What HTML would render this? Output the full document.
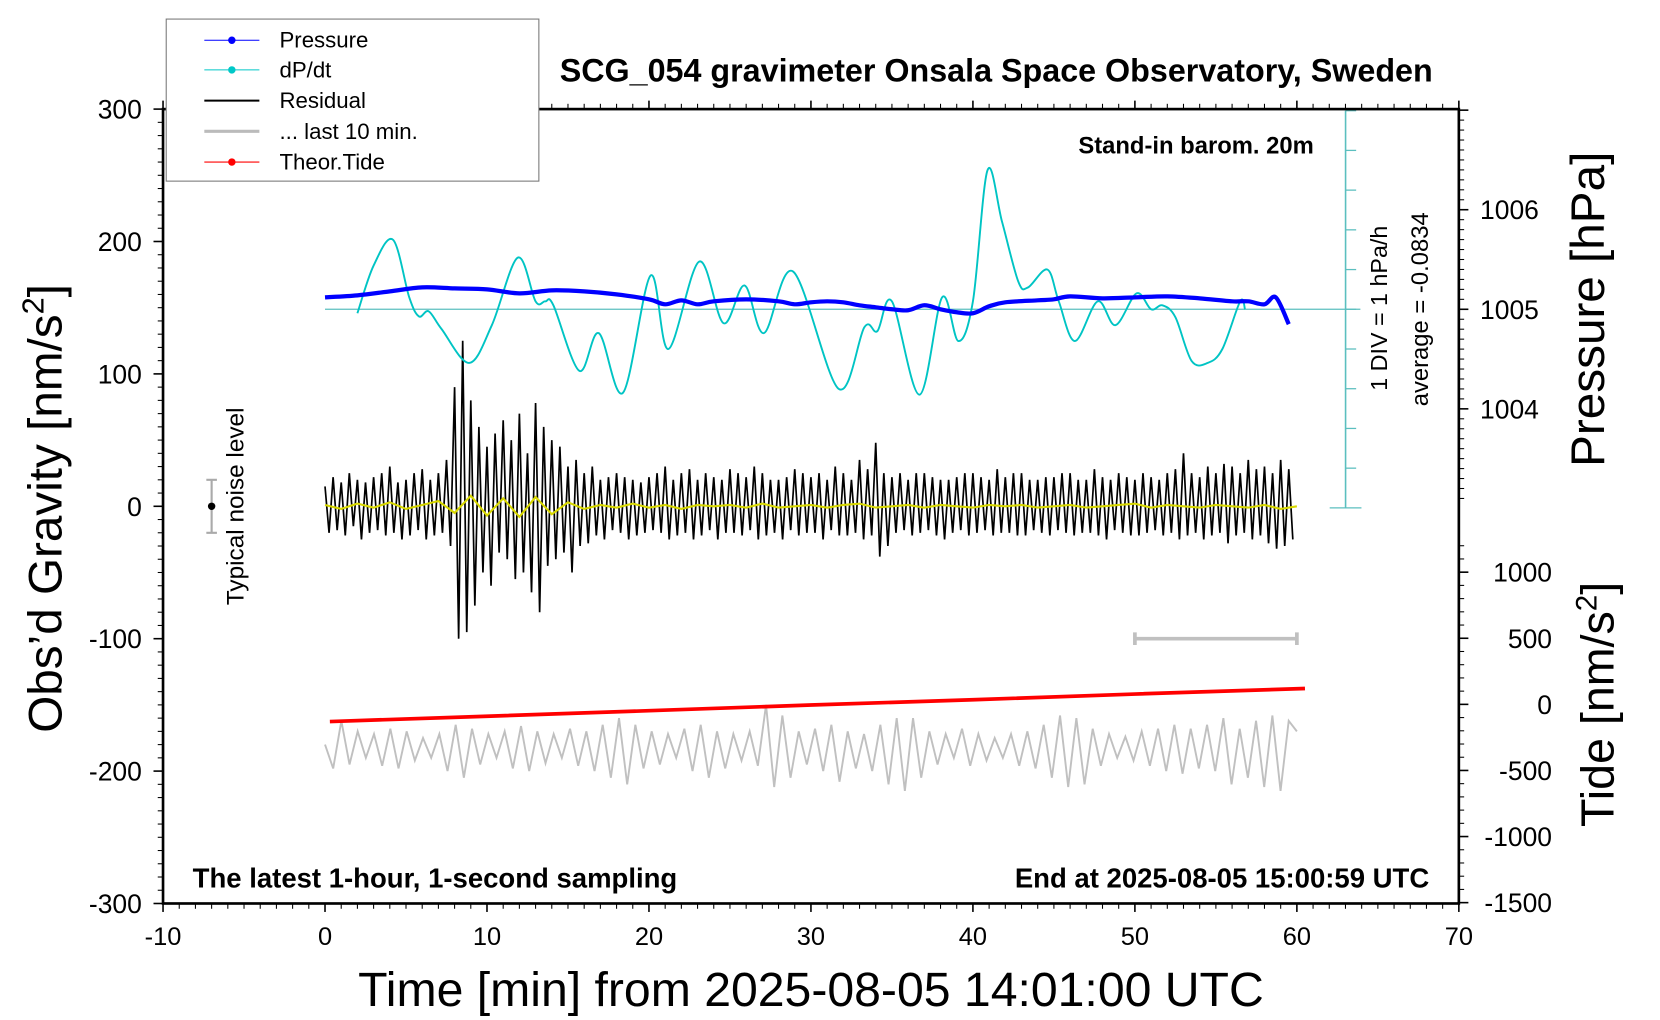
<!DOCTYPE html>
<html><head><meta charset="utf-8"><style>
html,body{margin:0;padding:0;background:#fff;}
svg{display:block;font-family:"Liberation Sans",Arial,sans-serif;}
</style></head><body>
<svg id="chart" width="1660" height="1020" viewBox="0 0 1568 963" preserveAspectRatio="none" xmlns="http://www.w3.org/2000/svg">
<rect x="0" y="0" width="1568" height="963" fill="#fff"/>
<g id="ticks"></g>
<g id="series"></g>
<rect x="154" y="103" width="1224" height="750" fill="none" stroke="#000" stroke-width="2.5"/>
<g id="labels"></g>
<text x="941" y="77" font-size="30.5" font-weight="bold" text-anchor="middle">SCG_054 gravimeter Onsala Space Observatory, Sweden</text>
<text x="1241" y="145" font-size="22.5" font-weight="bold" text-anchor="end">Stand-in barom. 20m</text>
<text x="182" y="838" font-size="26" font-weight="bold">The latest 1-hour, 1-second sampling</text>
<text x="1350" y="838" font-size="26" font-weight="bold" text-anchor="end">End at 2025-08-05 15:00:59 UTC</text>
<text x="766" y="950" font-size="45.5" text-anchor="middle">Time [min] from 2025-08-05 14:01:00 UTC</text>
<text transform="translate(58,480) rotate(-90)" font-size="45" text-anchor="middle">Obs’d Gravity [nm/s<tspan font-size="29" dy="-17">2</tspan><tspan dy="17">]</tspan></text>
<text transform="translate(1515,292) rotate(-90)" font-size="45" text-anchor="middle">Pressure [hPa]</text>
<text transform="translate(1524,665) rotate(-90)" font-size="44" text-anchor="middle">Tide [nm/s<tspan font-size="28" dy="-16">2</tspan><tspan dy="16">]</tspan></text>
<text transform="translate(1310,291) rotate(-90)" font-size="22" text-anchor="middle">1 DIV = 1 hPa/h</text>
<text transform="translate(1349,292) rotate(-90)" font-size="22.5" text-anchor="middle">average = -0.0834</text>
<text transform="translate(230,478) rotate(-90)" font-size="23" text-anchor="middle">Typical noise level</text>
<g>
<rect x="157" y="18" width="352" height="153" fill="#fff" stroke="#777" stroke-width="1"/>
<g><line x1="193" y1="38" x2="245" y2="38" stroke="#00f" stroke-width="1"/><circle cx="219" cy="38" r="3.5" fill="#00f"/><text x="264" y="45" font-size="21">Pressure</text></g>
<g><line x1="193" y1="66" x2="245" y2="66" stroke="#00c8c8" stroke-width="1"/><circle cx="219" cy="66" r="3.5" fill="#00c8c8"/><text x="264" y="73" font-size="21">dP/dt</text></g>
<g><line x1="193" y1="95" x2="245" y2="95" stroke="#000" stroke-width="2"/><text x="264" y="102" font-size="21">Residual</text></g>
<g><line x1="193" y1="124" x2="245" y2="124" stroke="#bbb" stroke-width="3"/><text x="264" y="131" font-size="21">... last 10 min.</text></g>
<g><line x1="193" y1="153" x2="245" y2="153" stroke="#f00" stroke-width="1"/><circle cx="219" cy="153" r="3.5" fill="#f00"/><text x="264" y="160" font-size="21">Theor.Tide</text></g>
</g>
</svg>
<script>
// ---- data ----
const xTicks = [-10,0,10,20,30,40,50,60,70];
const gravTicks = [300,200,100,0,-100,-200,-300];
const pressTicks = [1006,1005,1004];
const tideTicks = [1000,500,0,-500,-1000,-1500];
const pressTimes = [0,2,4,6,8,10,12,14,16,18,20,21,22,23,24,26,28,29,30,31,32,33,34,35,36,37,38,39,40,41,42,44,45,46,48,50,52,54,56,57,58,58.7,59.5];
const pressValues = [1005.12,1005.14,1005.18,1005.22,1005.21,1005.20,1005.16,1005.19,1005.18,1005.15,1005.10,1005.05,1005.09,1005.05,1005.08,1005.10,1005.08,1005.05,1005.07,1005.08,1005.07,1005.04,1005.02,1005.00,1004.99,1005.04,1005.00,1004.97,1004.96,1005.03,1005.07,1005.09,1005.10,1005.13,1005.11,1005.12,1005.13,1005.11,1005.08,1005.08,1005.05,1005.12,1004.85];
const dpdtTimes = [2.0,3.0,4.2,5.2,5.8,6.4,7.2,8.9,10.3,11.9,13.0,13.6,14.1,15.7,16.9,18.4,20.1,21.2,23.1,24.6,25.9,27.1,28.9,31.7,33.3,34.1,35.0,36.7,38.1,39.1,40.0,40.9,41.8,42.8,43.4,44.6,45.3,46.3,47.7,48.8,50.1,51.0,51.7,52.5,53.5,54.5,55.4,56.5,56.8];
const dpdtValues = [-0.1,1.1,1.75,0.3,-0.18,-0.05,-0.5,-1.35,-0.4,1.3,0.2,0.2,0.1,-1.55,-0.6,-2.1,0.85,-1.0,1.2,-0.35,0.6,-0.6,0.95,-2.0,-0.45,-0.55,0.2,-2.15,0.3,-0.8,0.2,3.5,2.2,0.7,0.55,1.0,0.2,-0.8,0.2,-0.4,0.4,0.0,0.1,-0.2,-1.3,-1.35,-1.0,0.2,0.0];
const residualValues = [15,-20,22,-18,18,-22,25,-15,20,-25,18,-20,22,-18,25,-22,30,-20,18,-25,20,-22,25,-18,28,-25,20,-22,25,-20,35,-30,
90,-100,125,-95,80,-75,60,-50,45,-60,55,-35,65,-40,50,-55,70,-50,40,-65,78,-80,60,-45,50,-40,45,-35,30,-50,35,-30,
25,-28,30,-22,20,-25,22,-18,25,-20,22,-25,20,-22,18,-20,22,-18,25,-20,30,-25,20,-22,25,-20,28,-25,20,-22,25,-18,
22,-25,20,-20,28,-20,25,-22,22,-18,30,-25,25,-22,20,-20,20,-25,22,-18,28,-22,25,-20,22,-20,25,-25,20,-18,30,-22,
25,-22,20,-20,35,-25,28,-22,48,-38,25,-30,22,-20,25,-18,20,-22,25,-20,25,-18,22,-22,20,-25,20,-20,22,-18,25,-22,
25,-20,22,-18,20,-22,28,-20,22,-20,25,-22,25,-22,20,-18,20,-20,22,-22,22,-18,25,-20,25,-22,20,-20,20,-20,28,-22,
22,-25,20,-18,25,-20,22,-22,20,-22,25,-20,22,-18,20,-22,25,-20,28,-25,40,-22,25,-20,22,-25,30,-22,25,-20,32,-28,
30,-22,25,-20,35,-25,28,-22,30,-28,25,-32,35,-30,28,-25];
const yellowValues = [1,-2,2,-1,3,-2,1,4,-5,8,-7,6,-8,7,-6,3,-2,1,-1,2,-1,1,-2,1,0,1,-1,2,-1,0,1,-1,1,2,-1,0,1,-1,1,0,-1,1,0,1,-1,0,1,-1,0,1,2,-1,1,0,-1,1,0,-1,1,-2,0];
const lastTenValues = [-180,-198,-162,-195,-170,-190,-172,-196,-168,-198,-170,-192,-175,-190,-172,-200,-165,-205,-168,-195,
 -172,-190,-170,-198,-166,-200,-170,-194,-172,-190,-168,-196,-170,-200,-165,-205,-160,-210,-165,-198,
 -170,-195,-172,-190,-168,-200,-165,-205,-170,-198,-172,-192,-170,-196,-150,-212,-158,-205,-170,-195,
 -168,-200,-165,-208,-170,-198,-172,-200,-165,-210,-160,-215,-160,-205,-170,-195,-172,-190,-168,-196,
 -172,-192,-175,-190,-172,-196,-170,-198,-165,-205,-158,-212,-160,-210,-168,-196,-172,-190,-174,-192,
 -170,-196,-168,-200,-165,-202,-168,-198,-165,-200,-160,-210,-168,-205,-162,-212,-158,-215,-162,-170];
const tideTimes = [0.3,10,20,30,40,50,60.5];
const tideValues = [-130,-90,-48,-5,35,78,120];

// ---- axes ----
const X = t => 154 + (t + 10) * 15.3;
const YG = g => 478 - g * 1.25;
const YP = p => 292 - (p - 1005) * 94;
const YD = d => 292 - d * 37.5;
const YT = v => 665 - v * 0.1248;
const NS = 'http://www.w3.org/2000/svg';
function mk(tag, attrs, parent) {
  const e = document.createElementNS(NS, tag);
  for (const k in attrs) e.setAttribute(k, attrs[k]);
  parent.appendChild(e);
  return e;
}
const tg = document.getElementById('ticks');
const sg = document.getElementById('series');
const lg = document.getElementById('labels');

for (let m = -10; m <= 70; m++) {
  const major = m % 10 === 0;
  const len = major ? 8 : 5;
  mk('line', {x1: X(m), x2: X(m), y1: 853, y2: 853 + len, stroke: '#000', 'stroke-width': major ? 1.5 : 1}, tg);
  mk('line', {x1: X(m), x2: X(m), y1: 103, y2: 103 - len, stroke: '#000', 'stroke-width': major ? 1.5 : 1}, tg);
}
xTicks.forEach(v => {
  const t = mk('text', {x: X(v), y: 892, 'font-size': 24, 'text-anchor': 'middle'}, lg);
  
  
  t.textContent = v;
});
for (let g = -300; g <= 300; g += 10) {
  const major = g % 100 === 0;
  mk('line', {x1: 154, x2: 154 - (major ? 9 : 5), y1: YG(g), y2: YG(g), stroke: '#000', 'stroke-width': major ? 1.5 : 1}, tg);
}
gravTicks.forEach(v => {
  const t = mk('text', {x: 134, y: YG(v) + 9, 'font-size': 25, 'text-anchor': 'end'}, lg);
  
  
  t.textContent = v;
});
for (let i = 0; i <= 40; i++) {
  const p = 1003 + i * 0.1;
  const y = YP(p);
  if (y < 103 || y > 478) continue;
  const major = i % 10 === 0;
  mk('line', {x1: 1378, x2: 1378 + (major ? 9 : 5), y1: y, y2: y, stroke: '#000', 'stroke-width': major ? 1.5 : 1}, tg);
}
pressTicks.forEach(v => {
  const t = mk('text', {x: 1398, y: YP(v) + 9, 'font-size': 25}, lg);
  
  
  t.textContent = v;
});
for (let v = -1500; v <= 1500; v += 100) {
  const y = YT(v);
  if (y < 515 || y > 853) continue;
  const major = v % 500 === 0;
  mk('line', {x1: 1378, x2: 1378 + (major ? 9 : 5), y1: y, y2: y, stroke: '#000', 'stroke-width': major ? 1.5 : 1}, tg);
}
tideTicks.forEach(v => {
  const t = mk('text', {x: 1466, y: YT(v) + 9, 'font-size': 25, 'text-anchor': 'end'}, lg);
  
  
  t.textContent = v;
});

const dax = mk('line', {x1: 1271, x2: 1271, y1: YD(5), y2: YD(-5), stroke: '#5bbfbf', 'stroke-width': 1.5}, sg);


for (let d = -5; d <= 5; d++) {
  mk('line', {x1: (d === -5) ? 1256 : 1271, x2: (d === -5) ? 1286 : 1281, y1: YD(d), y2: YD(d), stroke: '#5bbfbf', 'stroke-width': 1.2}, sg);
}
const zl = mk('line', {x1: X(0), x2: 1285, y1: YD(0), y2: YD(0), stroke: '#5bbfbf', 'stroke-width': 1.2}, sg);



function smoothPath(xs, ys) {
  let d = 'M' + xs[0] + ',' + ys[0];
  for (let i = 0; i < xs.length - 1; i++) {
    const x0 = xs[Math.max(i - 1, 0)], y0 = ys[Math.max(i - 1, 0)];
    const x1 = xs[i], y1 = ys[i], x2 = xs[i + 1], y2 = ys[i + 1];
    const x3 = xs[Math.min(i + 2, xs.length - 1)], y3 = ys[Math.min(i + 2, xs.length - 1)];
    d += ' C' + (x1 + (x2 - x0) / 6) + ',' + (y1 + (y2 - y0) / 6) + ' ' + (x2 - (x3 - x1) / 6) + ',' + (y2 - (y3 - y1) / 6) + ' ' + x2 + ',' + y2;
  }
  return d;
}

let rp = residualValues.map((v, i) => X(i * 60 / residualValues.length) + ',' + YG(v)).join(' ');
const res = mk('polyline', {points: rp, fill: 'none', stroke: '#000', 'stroke-width': 1.6}, sg);


let yp = yellowValues.map((v, i) => X(i * 60 / (yellowValues.length - 1)) + ',' + YG(v)).join(' ');
const yl = mk('polyline', {points: yp, fill: 'none', stroke: '#d8d800', 'stroke-width': 2}, sg);


let gp = lastTenValues.map((v, i) => X(i * 60 / (lastTenValues.length - 1)) + ',' + YG(v)).join(' ');
const gl = mk('polyline', {points: gp, fill: 'none', stroke: '#c0c0c0', 'stroke-width': 1.8}, sg);


const sb = mk('path', {d: 'M' + X(50) + ',' + YG(-100) + ' H' + X(60) + ' M' + X(50) + ',' + (YG(-100) - 6) + ' v12 M' + X(60) + ',' + (YG(-100) - 6) + ' v12', stroke: '#c0c0c0', 'stroke-width': 3.5, fill: 'none'}, sg);


const nl = mk('path', {d: 'M' + X(-7) + ',' + YG(20) + ' V' + YG(-20) + ' M' + (X(-7) - 5) + ',' + YG(20) + ' h10 M' + (X(-7) - 5) + ',' + YG(-20) + ' h10', stroke: '#aaa', 'stroke-width': 2, fill: 'none'}, sg);


mk('circle', {cx: X(-7), cy: YG(0), r: 3.5, fill: '#000'}, sg);
const tl = mk('polyline', {points: tideTimes.map((t, i) => X(t) + ',' + YT(tideValues[i])).join(' '), fill: 'none', stroke: '#f00', 'stroke-width': 3.5}, sg);


const dl = mk('path', {d: smoothPath(dpdtTimes.map(X), dpdtValues.map(YD)), fill: 'none', stroke: '#00c4c4', 'stroke-width': 1.8}, sg);


const pl = mk('path', {d: smoothPath(pressTimes.map(X), pressValues.map(YP)), fill: 'none', stroke: '#0000ff', 'stroke-width': 4}, sg);


</script>
</body></html>
